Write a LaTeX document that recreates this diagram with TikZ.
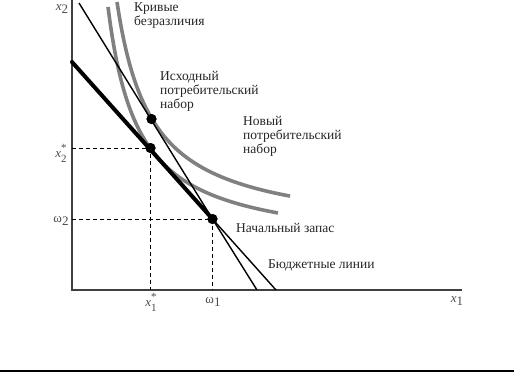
\documentclass[tikz,border=0pt]{standalone}
\usepackage{fontspec}
\setmainfont{Liberation Serif}
\newcommand{\starsub}[1]{\makebox[0pt][l]{\raisebox{6.5pt}{\fontsize{11}{11}\selectfont *}}\raisebox{-4.5pt}{\fontsize{11}{11}\selectfont #1}}
\begin{document}
\begin{tikzpicture}[x=1pt,y=-1pt,
  axis/.style={draw=black!75, line width=1.8pt},
  thinline/.style={draw=black, line width=1.4pt},
  thickline/.style={draw=black, line width=4pt},
  icurve/.style={draw=black!50, line width=3.6pt},
  guide/.style={draw=black, line width=0.8pt, dash pattern=on 4pt off 3pt},
  dot/.style={circle, fill=black, inner sep=0pt, minimum size=10pt},
  lbl/.style={font=\fontsize{13.5}{14.2}\selectfont, align=left, inner sep=0pt, anchor=north west, text=black!85},
  axl/.style={font=\fontsize{13}{14}\selectfont, inner sep=0pt, text=black!70}]
\useasboundingbox (0,0) rectangle (514,372);
% axes
\coordinate (o) at (72,290);
\coordinate (ytop) at (72,0);
\coordinate (xend) at (462,290);
\draw[axis] (ytop) -- (o) -- (xend);
% bottom rule
\coordinate (bl) at (0,371);
\coordinate (br) at (514,371);
\draw[draw=black, line width=1.5pt] (bl) -- (br);
% indifference curves
\draw[icurve] plot[domain=36:206, samples=80] ({72+\x},{290-40.3-7355/(\x-5.7)});
\draw[icurve] plot[domain=45:218, samples=80] ({72+\x},{290-55-8085/(\x-10.3)});
% points
\node[dot] (orig) at (151.5,119) {};
\node[dot] (opt) at (150.5,148) {};
\node[dot] (endow) at (212.5,219) {};
% budget lines
\coordinate (tA) at (79,3);
\coordinate (tB) at (257,290);
\coordinate (kA) at (72,62);
\coordinate (kB) at (276,290);
\draw[thinline] (tA) -- (endow.center) -- (tB);
\draw[thickline, line cap=round] (kA) -- (endow.center);
\draw[thinline] (endow.center) -- (kB);
% guides
\coordinate (gx2) at (72,148);
\coordinate (gx1) at (150.5,290);
\coordinate (gw2) at (72,219);
\coordinate (gw1) at (212.5,290);
\draw[guide] (gx2) -- (opt.center) -- (gx1);
\draw[guide] (gw2) -- (endow.center) -- (gw1);
\node[dot] at (orig) {};
\node[dot] at (opt) {};
\node[dot] at (endow) {};
% texts
\node[lbl] (kriv) at (134,2) {Кривые\\безразличия};
\node[lbl] (isx) at (160,71) {Исходный\\потребительский\\набор};
\node[lbl] (nov) at (243,116) {Новый\\потребительский\\набор};
\node[lbl] (nach) at (236,223) {Начальный запас};
\node[lbl] (budg) at (268,259) {Бюджетные линии};
% axis labels
\node[axl] (lx2) at (62,9) {\textit{x}\raisebox{-3pt}{2}};
\node[axl] (lx2s) at (61,153) {\textit{x}\starsub{2}};
\node[axl] (lw2) at (61,221) {ω\raisebox{-3pt}{2}};
\node[axl] (lx1s) at (151,302) {\textit{x}\starsub{1}};
\node[axl] (lw1) at (213,302) {ω\raisebox{-3pt}{1}};
\node[axl] (lx1) at (457,301) {\textit{x}\raisebox{-3pt}{1}};
\end{tikzpicture}
\end{document}
